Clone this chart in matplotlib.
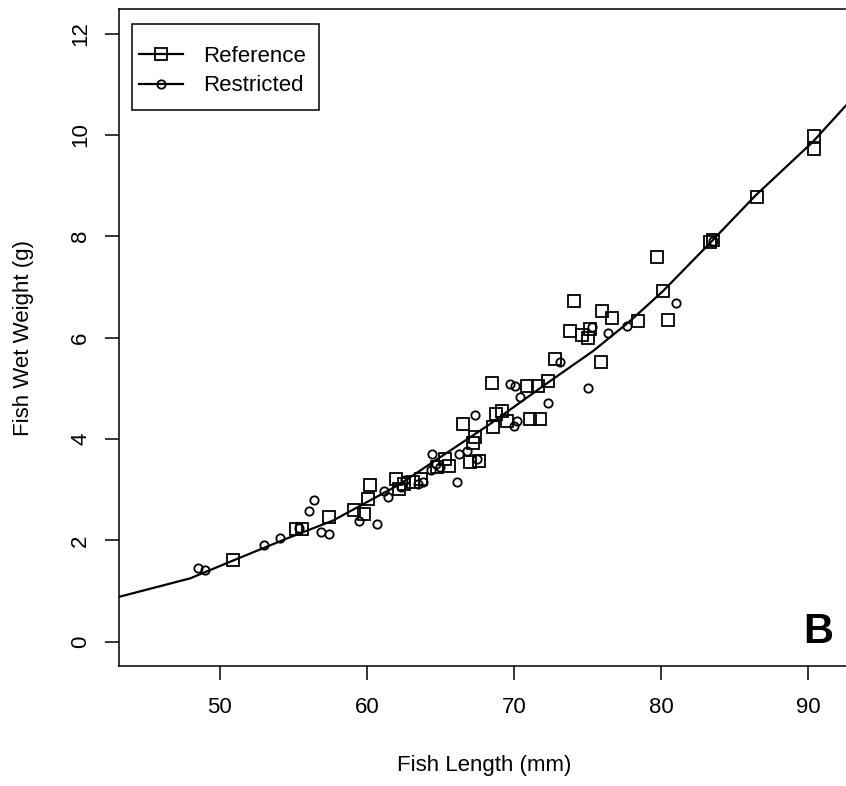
"""Length-weight relationship, panel B: reference vs restricted fish."""

import matplotlib.pyplot as plt
from matplotlib.lines import Line2D
from matplotlib.patches import Rectangle

plt.rcParams['font.family'] = ['Liberation Sans', 'DejaVu Sans']

# reference fish (squares): length mm, wet weight g
ref_len = [50.9, 55.2, 55.6, 57.4, 59.1, 59.8, 60.1, 60.25, 62.0, 62.5, 62.2,
           63.15, 63.7, 64.75, 65.3, 65.6, 66.55, 67.0, 67.6, 67.35, 67.2, 68.8,
           69.5, 68.5, 70.9, 71.65, 72.3, 72.8, 75.9, 71.8, 71.1, 69.2, 68.6,
           79.7, 74.05, 76.0, 76.65, 80.16, 80.5, 78.45, 73.8, 74.6, 75.05, 75.2,
           83.3, 83.5, 86.5, 90.4, 90.4]
ref_wt = [1.62, 2.23, 2.22, 2.46, 2.59, 2.52, 2.82, 3.10, 3.21, 3.12, 3.02,
          3.15, 3.21, 3.44, 3.60, 3.47, 4.29, 3.54, 3.57, 4.03, 3.93, 4.49,
          4.36, 5.11, 5.05, 5.05, 5.15, 5.57, 5.51, 4.39, 4.39, 4.56, 4.23,
          7.60, 6.72, 6.52, 6.38, 6.92, 6.34, 6.33, 6.13, 6.06, 6.00, 6.18,
          7.88, 7.93, 8.78, 9.98, 9.73]

# restricted fish (circles)
res_len = [48.5, 49.0, 53.0, 54.1, 55.4, 56.1, 56.4, 56.9, 57.4, 59.5, 60.7,
           61.2, 61.45, 62.3, 62.6, 63.5, 63.8, 64.35, 64.4, 64.7, 65.0, 66.1,
           66.3, 66.8, 67.35, 67.5, 69.7, 70.1, 70.4, 70.2, 70.0, 72.3, 73.1,
           75.05, 75.3, 76.4, 77.7, 81.0, 83.5]
res_wt = [1.45, 1.42, 1.90, 2.05, 2.25, 2.58, 2.79, 2.16, 2.12, 2.39, 2.33,
          2.98, 2.85, 3.05, 3.20, 3.12, 3.15, 3.38, 3.70, 3.50, 3.45, 3.15,
          3.70, 3.77, 4.48, 3.60, 5.08, 5.05, 4.82, 4.36, 4.26, 4.72, 5.51,
          5.01, 6.21, 6.10, 6.23, 6.69, 7.90]

# fitted curve, traced at its knots
fit_len = [43.1, 48.0, 50.9, 54.6, 57.7, 62.2, 68.4, 72.2, 75.4, 77.9, 80.1,
           83.3, 86.4, 90.3, 93.0]
fit_wt = [0.88, 1.25, 1.60, 2.04, 2.39, 3.10, 4.30, 5.09, 5.74, 6.33, 6.91,
          7.86, 8.80, 9.86, 10.72]

W, H = 846, 786
fig = plt.figure(figsize=(W / 100, H / 100), dpi=100)
# plot region runs a few pixels past the right edge of the canvas
ax = fig.add_axes([119 / W, 120 / H, (850 - 119) / W, (666 - 9.3) / H])

ax.plot(fit_len, fit_wt, color='black', lw=1.6, zorder=3)
ax.plot(ref_len, ref_wt, 's', ms=9, mfc='none', mec='black', mew=1.3, zorder=4)
ax.plot(res_len, res_wt, 'o', ms=6, mfc='none', mec='black', mew=1.3, zorder=4)

ax.set_xlim(43.16, 92.84)
ax.set_ylim(-0.48, 12.48)
ax.set_xticks([50, 60, 70, 80, 90])
ax.set_yticks([0, 2, 4, 6, 8, 10, 12])
ax.set_yticklabels(['0', '2', '4', '6', '8', '10', '12'], rotation=90, va='center')
ax.tick_params(axis='both', length=10, width=1.1, labelsize=16, color='black')
ax.tick_params(axis='x', pad=12)
ax.tick_params(axis='y', pad=10)
for s in ax.spines.values():
    s.set_linewidth(1.1)

ax.set_xlabel('Fish Length (mm)', fontsize=16, labelpad=27)
ax.set_ylabel('Fish Wet Weight (g)', fontsize=16, labelpad=26)

ax.text(90.7, 0.2, 'B', fontsize=30, fontweight='bold', ha='center', va='center')

# legend box drawn separately so its padding can be uneven (R style)
ax.add_patch(Rectangle((0.0178, 0.8467), 0.2558, 0.1309, transform=ax.transAxes,
                       fill=False, ec='black', lw=1.1, zorder=5))
handles = [
    Line2D([], [], color='black', lw=1.6, marker='s', ms=8, mfc='none', mew=1.3),
    Line2D([], [], color='black', lw=1.6, marker='o', ms=6, mfc='none', mew=1.3),
]
ax.legend(handles, ['Reference', 'Restricted'], loc='upper left',
          bbox_to_anchor=(0.0178, 0.9548), borderaxespad=0, fontsize=16,
          frameon=False, handlelength=2.0, handletextpad=0.9, borderpad=0.3,
          labelspacing=0.39)

fig.savefig('out.png', dpi=100)
